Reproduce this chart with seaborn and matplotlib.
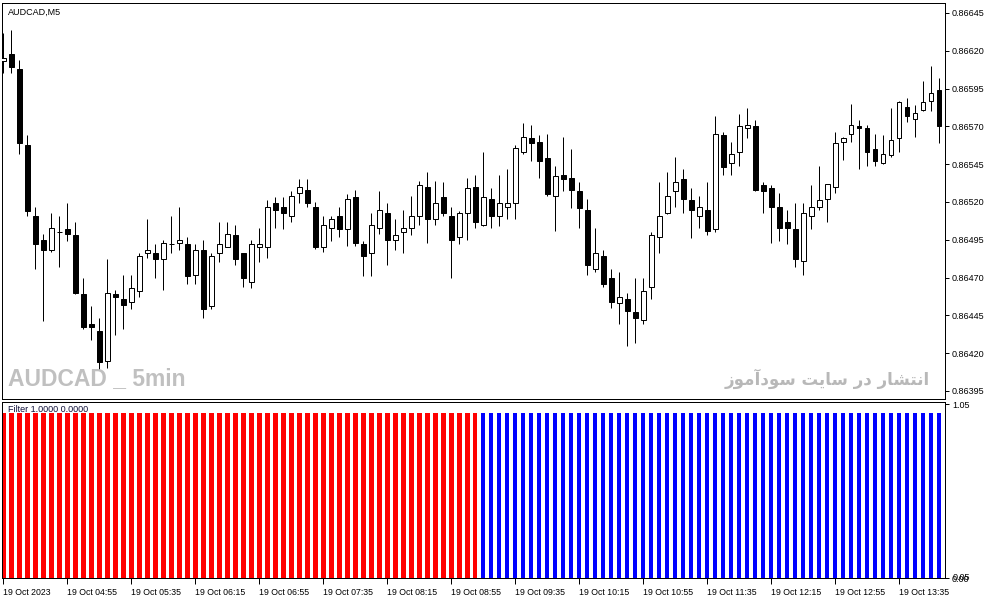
import numpy as np
import pandas as pd
import matplotlib
matplotlib.use("Agg")
import matplotlib.pyplot as plt
import seaborn as sns

# ------------------ Data (AUDCAD M5, 19 Oct 2023 04:15 - 14:00) ------------------
opens = [0.86613, 0.86618, 0.86608, 0.86558, 0.86511, 0.86495, 0.86488, 0.86500, 0.86502, 0.86498,
         0.86459, 0.86439, 0.86435, 0.86415, 0.86459, 0.86456, 0.86454, 0.86461, 0.86486, 0.86486,
         0.86482, 0.86492, 0.86493, 0.86492, 0.86472, 0.86488, 0.86451, 0.86486, 0.86490, 0.86498,
         0.86486, 0.86467, 0.86490, 0.86490, 0.86519, 0.86517, 0.86511, 0.86526, 0.86528, 0.86517,
         0.86490, 0.86503, 0.86511, 0.86502, 0.86523, 0.86492, 0.86486, 0.86503, 0.86513, 0.86495,
         0.86500, 0.86503, 0.86511, 0.86530, 0.86509, 0.86523, 0.86511, 0.86497, 0.86513, 0.86530,
         0.86505, 0.86522, 0.86511, 0.86517, 0.86519, 0.86553, 0.86562, 0.86560, 0.86549, 0.86524,
         0.86538, 0.86536, 0.86527, 0.86515, 0.86476, 0.86484, 0.86470, 0.86453, 0.86456, 0.86447,
         0.86442, 0.86464, 0.86497, 0.86513, 0.86527, 0.86535, 0.86521, 0.86511, 0.86515, 0.86502,
         0.86564, 0.86546, 0.86553, 0.86569, 0.86570, 0.86531, 0.86529, 0.86517, 0.86507, 0.86502,
         0.86481, 0.86511, 0.86517, 0.86522, 0.86530, 0.86560, 0.86565, 0.86570, 0.86569, 0.86555,
         0.86546, 0.86551, 0.86562, 0.86583, 0.86575, 0.86581, 0.86587, 0.86594]
highs = [0.86632, 0.86634, 0.86614, 0.86564, 0.86517, 0.86499, 0.86513, 0.86511, 0.86519, 0.86507,
         0.86470, 0.86451, 0.86443, 0.86482, 0.86462, 0.86472, 0.86472, 0.86486, 0.86509, 0.86492,
         0.86495, 0.86511, 0.86517, 0.86497, 0.86492, 0.86495, 0.86486, 0.86507, 0.86507, 0.86505,
         0.86486, 0.86495, 0.86503, 0.86521, 0.86523, 0.86523, 0.86527, 0.86535, 0.86535, 0.86520,
         0.86511, 0.86511, 0.86517, 0.86525, 0.86528, 0.86494, 0.86513, 0.86527, 0.86519, 0.86509,
         0.86515, 0.86524, 0.86534, 0.86540, 0.86534, 0.86533, 0.86517, 0.86514, 0.86536, 0.86538,
         0.86553, 0.86529, 0.86538, 0.86542, 0.86558, 0.86572, 0.86571, 0.86564, 0.86565, 0.86544,
         0.86563, 0.86555, 0.86533, 0.86522, 0.86503, 0.86488, 0.86476, 0.86474, 0.86460, 0.86470,
         0.86470, 0.86500, 0.86533, 0.86540, 0.86550, 0.86542, 0.86529, 0.86524, 0.86533, 0.86577,
         0.86566, 0.86560, 0.86578, 0.86582, 0.86574, 0.86533, 0.86531, 0.86526, 0.86515, 0.86519,
         0.86519, 0.86531, 0.86544, 0.86532, 0.86566, 0.86563, 0.86585, 0.86574, 0.86571, 0.86565,
         0.86564, 0.86582, 0.86587, 0.86589, 0.86584, 0.86600, 0.86610, 0.86602]
lows = [0.86605, 0.86605, 0.86552, 0.86511, 0.86476, 0.86441, 0.86487, 0.86477, 0.86494, 0.86459,
        0.86436, 0.86429, 0.86409, 0.86410, 0.86432, 0.86436, 0.86449, 0.86457, 0.86483, 0.86470,
        0.86462, 0.86486, 0.86488, 0.86466, 0.86466, 0.86443, 0.86449, 0.86480, 0.86490, 0.86478,
        0.86464, 0.86463, 0.86480, 0.86483, 0.86503, 0.86502, 0.86507, 0.86519, 0.86517, 0.86489,
        0.86487, 0.86494, 0.86497, 0.86491, 0.86491, 0.86471, 0.86471, 0.86499, 0.86478, 0.86488,
        0.86486, 0.86498, 0.86505, 0.86493, 0.86505, 0.86511, 0.86470, 0.86492, 0.86495, 0.86503,
        0.86504, 0.86503, 0.86504, 0.86509, 0.86509, 0.86552, 0.86547, 0.86536, 0.86524, 0.86501,
        0.86527, 0.86516, 0.86503, 0.86472, 0.86474, 0.86464, 0.86450, 0.86439, 0.86425, 0.86427,
        0.86439, 0.86456, 0.86486, 0.86512, 0.86517, 0.86513, 0.86496, 0.86503, 0.86498, 0.86500,
        0.86538, 0.86538, 0.86544, 0.86562, 0.86527, 0.86513, 0.86493, 0.86494, 0.86492, 0.86477,
        0.86472, 0.86502, 0.86515, 0.86507, 0.86526, 0.86548, 0.86560, 0.86542, 0.86544, 0.86544,
        0.86545, 0.86550, 0.86553, 0.86573, 0.86563, 0.86580, 0.86580, 0.86559]
closes = [0.86615, 0.86609, 0.86559, 0.86514, 0.86492, 0.86488, 0.86503, 0.86500, 0.86499, 0.86460,
          0.86437, 0.86437, 0.86414, 0.86460, 0.86457, 0.86452, 0.86463, 0.86484, 0.86488, 0.86482,
          0.86493, 0.86492, 0.86495, 0.86471, 0.86488, 0.86449, 0.86484, 0.86492, 0.86499, 0.86482,
          0.86470, 0.86492, 0.86492, 0.86517, 0.86515, 0.86513, 0.86524, 0.86530, 0.86519, 0.86490,
          0.86505, 0.86509, 0.86502, 0.86522, 0.86493, 0.86484, 0.86505, 0.86515, 0.86495, 0.86498,
          0.86503, 0.86511, 0.86531, 0.86509, 0.86519, 0.86513, 0.86495, 0.86513, 0.86529, 0.86507,
          0.86523, 0.86511, 0.86519, 0.86519, 0.86556, 0.86563, 0.86559, 0.86547, 0.86525, 0.86537,
          0.86535, 0.86528, 0.86516, 0.86478, 0.86486, 0.86466, 0.86454, 0.86457, 0.86448, 0.86443,
          0.86461, 0.86498, 0.86511, 0.86524, 0.86533, 0.86522, 0.86515, 0.86517, 0.86501, 0.86565,
          0.86543, 0.86552, 0.86570, 0.86571, 0.86528, 0.86527, 0.86517, 0.86503, 0.86503, 0.86482,
          0.86513, 0.86517, 0.86521, 0.86532, 0.86559, 0.86562, 0.86571, 0.86569, 0.86553, 0.86547,
          0.86552, 0.86561, 0.86586, 0.86577, 0.86579, 0.86586, 0.86592, 0.86570]

# Filter indicator: one letter per bar, R = red (down), B = blue (up)
filter_colour = ("RRRRRRRRRRRRRRRRRRRR"
                 "RRRRRRRRRRRRRRRRRRRR"
                 "RRRRRRRRRRRRRRRRRRRR"
                 "BBBBBBBBBBBBBBBBBBBB"
                 "BBBBBBBBBBBBBBBBBBBB"
                 "BBBBBBBBBBBBBBBBBB")
filter_value = [1.0] * len(filter_colour)

price_ticks = [0.86395, 0.86420, 0.86445, 0.86470, 0.86495, 0.86520, 0.86545, 0.86570, 0.86595, 0.86620, 0.86645]
time_tick_bars = [0, 8, 16, 24, 32, 40, 48, 56, 64, 72, 80, 88, 96, 104, 112]
time_tick_labels = ["19 Oct 2023", "19 Oct 04:55", "19 Oct 05:35", "19 Oct 06:15", "19 Oct 06:55",
                    "19 Oct 07:35", "19 Oct 08:15", "19 Oct 08:55", "19 Oct 09:35", "19 Oct 10:15",
                    "19 Oct 10:55", "19 Oct 11:35", "19 Oct 12:15", "19 Oct 12:55", "19 Oct 13:35"]

watermark_left = "AUDCAD _ 5min"
watermark_right = "انتشار در سایت سودآموز"

# ------------------ Persian shaping (matplotlib has no bidi / joining) ------------------
# isolated, final, initial, medial ; two entries = joins only to the previous letter
FORMS = {
    'ا': '\uFE8D\uFE8E', 'آ': '\uFE81\uFE82', 'ر': '\uFEAD\uFEAE', 'د': '\uFEA9\uFEAA',
    'ز': '\uFEAF\uFEB0', 'و': '\uFEED\uFEEE',
    'ن': '\uFEE5\uFEE6\uFEE7\uFEE8', 'ت': '\uFE95\uFE96\uFE97\uFE98',
    'ش': '\uFEB5\uFEB6\uFEB7\uFEB8', 'س': '\uFEB1\uFEB2\uFEB3\uFEB4',
    'ی': '\uFBFC\uFBFD\uFEF3\uFEF4', 'م': '\uFEE1\uFEE2\uFEE3\uFEE4',
}


def shape_word(word):
    out = []
    for i, ch in enumerate(word):
        f = FORMS[ch]
        join_prev = i > 0 and len(FORMS[word[i - 1]]) == 4
        join_next = i + 1 < len(word) and len(f) == 4
        if join_prev and join_next:
            out.append(f[3])
        elif join_prev:
            out.append(f[1])
        elif join_next:
            out.append(f[2])
        else:
            out.append(f[0])
    return ''.join(reversed(out))


def shape_rtl(text):
    return ' '.join(shape_word(w) for w in reversed(text.split()))


# ------------------ Plot ------------------
sns.set_style("white")
plt.rcParams['font.family'] = ['Liberation Sans', 'DejaVu Sans']

W, H = 991, 605
fig = plt.figure(figsize=(W / 100, H / 100), dpi=100)
left, right = 2, 945
ax = fig.add_axes([left / W, 1 - 399 / H, (right - left) / W, (399 - 3) / H])
ax2 = fig.add_axes([left / W, 1 - 578 / H, (right - left) / W, (578 - 402) / H])

df = pd.DataFrame({'open': opens, 'high': highs, 'low': lows, 'close': closes})
df['bar'] = np.arange(len(df))
df['bull'] = df['close'] >= df['open']
df['body_lo'] = df[['open', 'close']].min(axis=1)
df['body_h'] = (df['open'] - df['close']).abs()

px = 1 / 100 * 72  # one pixel in points
ax.vlines(df['bar'], df['low'], df['high'], color='black', linewidth=px, zorder=2)
ax.bar(df['bar'], df['body_h'], bottom=df['body_lo'], width=0.62,
       color=np.where(df['bull'], 'white', 'black'), edgecolor='black', linewidth=px, zorder=3)

xlim = (-0.15, len(df) - 0.25)
ax.set_xlim(*xlim)
ax.set_ylim(0.863897, 0.866516)
ax.yaxis.tick_right()
ax.set_yticks(price_ticks)
ax.set_yticklabels([f"{p:.5f}" for p in price_ticks])
ax.set_xticks([])
ax.tick_params(axis='y', direction='out', length=3, width=px, pad=2, labelsize=6.5, colors='black', right=True)

# indicator panel
fdf = pd.DataFrame({'bar': np.arange(len(filter_colour)), 'value': filter_value,
                    'colour': ['red' if c == 'R' else 'blue' for c in filter_colour]})
sns.barplot(data=fdf, x='bar', y='value', hue='colour', palette={'red': '#ff0000', 'blue': '#0000ff'},
            native_scale=True, dodge=False, width=0.6, linewidth=0, saturation=1,
            legend=False, ax=ax2)
ax2.set_xlim(*xlim)
ax2.set_ylim(0, 1.065)
ax2.set_xlabel('')
ax2.set_ylabel('')
ax2.yaxis.tick_right()
ax2.set_yticks([0.0, 1.05])
ax2.set_yticklabels(['0.00', '1.05'])
ax2.set_xticks(time_tick_bars)
ax2.set_xticklabels(time_tick_labels, ha='left')
ax2.tick_params(axis='y', direction='out', length=3, width=px, pad=2, labelsize=6.5, colors='black', right=True)
ax2.tick_params(axis='x', direction='out', length=4, width=px, pad=3, labelsize=6.3, colors='black', bottom=True)
# overlapping "0.05" label at the bottom of the indicator scale
ax2.text(1.0 + 8 / (right - left), 0.0, '0.05', transform=ax2.transAxes, fontsize=6.5,
         va='center', ha='left', color='black')

for a in (ax, ax2):
    for s in a.spines.values():
        s.set_visible(True)
        s.set_color('black')
        s.set_linewidth(px)
    a.grid(False)

fig.text(8 / W, 1 - 12 / H, "AUDCAD,M5", fontsize=6.5, va='center', ha='left', color='black')
fig.text(8 / W, 1 - 409 / H, "Filter 1.0000 0.0000", fontsize=6.5, va='center', ha='left', color='#10103a')

fig.text(8 / W, 1 - 379 / H, watermark_left, fontsize=16.5, fontweight='bold', va='center', ha='left',
         color='#c0c0c0', family=['Liberation Sans Narrow', 'Liberation Sans', 'DejaVu Sans'])
fig.text(930 / W, 1 - 379 / H, shape_rtl(watermark_right), fontsize=12, fontweight='bold', va='center',
         ha='right', color='#b8b8b8', family=['DejaVu Sans'])

fig.savefig("out.png", dpi=100, facecolor='white')
